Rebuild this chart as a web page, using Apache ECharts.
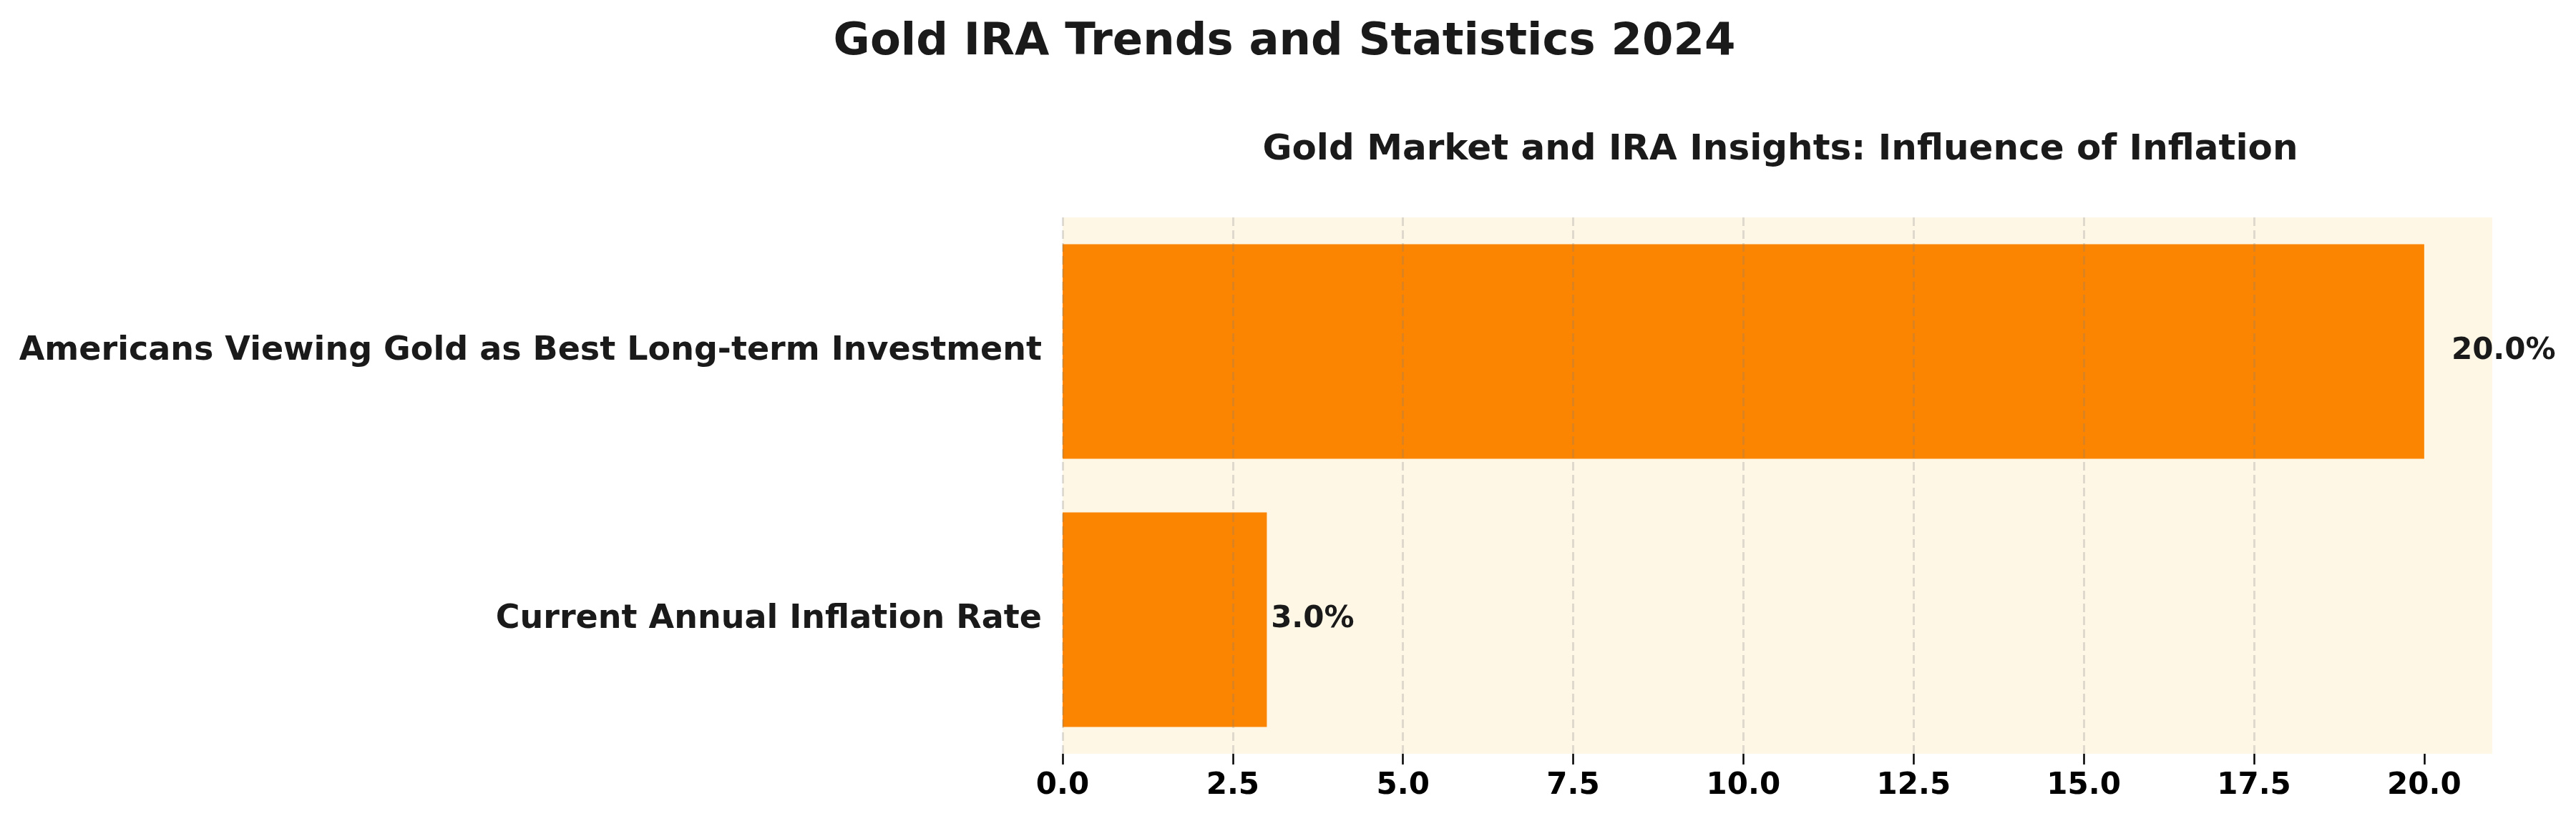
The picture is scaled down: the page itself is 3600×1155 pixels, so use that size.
<!DOCTYPE html>
<html>
<head>
<meta charset="utf-8">
<script src="https://cdn.jsdelivr.net/npm/echarts@6/dist/echarts.min.js"></script>
<style>
html,body{margin:0;padding:0;background:#fff;}
#c{width:3600px;height:1155px;}
</style>
</head>
<body>
<div id="c"></div>
<script>
const suptitle = 'Gold IRA Trends and Statistics 2024';
const subtitle = 'Gold Market and IRA Insights: Influence of Inflation';
const categories = ['Current Annual Inflation Rate', 'Americans Viewing Gold as Best Long-term Investment'];
const values = [3.0, 20.0];
const xTicks = [0, 2.5, 5, 7.5, 10, 12.5, 15, 17.5, 20];
const xMax = 21;

const FONT = 'DejaVu Sans';
const TXT = '#1a1a1a';
const GRID_LEFT = 1485, GRID_RIGHT = 117;
const pxPerUnit = (3600 - GRID_LEFT - GRID_RIGHT) / xMax;

const chart = echarts.init(document.getElementById('c'), null, {renderer: 'canvas'});
chart.setOption({
  animation: false,
  backgroundColor: '#ffffff',
  title: [
    {text: suptitle, left: 1790, top: 23, textAlign: 'center',
     textStyle: {fontFamily: FONT, fontWeight: 'bold', fontSize: 62.5, color: TXT}},
    {text: subtitle, left: 2483, top: 180, textAlign: 'center',
     textStyle: {fontFamily: FONT, fontWeight: 'bold', fontSize: 50, color: TXT}}
  ],
  grid: {left: GRID_LEFT, right: GRID_RIGHT, top: 304, bottom: 101, show: true,
         backgroundColor: '#fef7e6', borderWidth: 0, containLabel: false},
  xAxis: {
    type: 'value', min: 0, max: xMax, interval: 2.5, z: 10,
    axisLine: {show: false},
    axisTick: {show: true, length: 15, lineStyle: {color: '#000', width: 2.5}, customValues: xTicks},
    axisLabel: {customValues: xTicks, margin: 24, fontFamily: FONT, fontWeight: 'bold', fontSize: 42, color: '#000',
                formatter: v => v.toFixed(1)},
    splitLine: {show: true, showMaxLine: false, lineStyle: {color: 'rgba(128,128,128,0.25)', width: 3, type: [12, 6]}}
  },
  yAxis: {
    type: 'category', data: categories,
    axisLine: {show: false}, axisTick: {show: false},
    axisLabel: {margin: 29, fontFamily: FONT, fontWeight: 'bold', fontSize: 46, color: TXT, padding: [6, 0, 0, 0]},
    splitLine: {show: false}
  },
  series: [
    {type: 'bar', barCategoryGap: '20%', z: 2,
     itemStyle: {color: '#fb8500'},
     data: values.map(v => ({value: v, label: {distance: v * 0.02 * pxPerUnit}})),
     label: {show: true, position: 'right', formatter: p => p.value.toFixed(1) + '%', padding: [4, 0, 0, 0],
             fontFamily: FONT, fontWeight: 'bold', fontSize: 42, color: TXT, opacity: 1}}
  ]
});
</script>
</body>
</html>
